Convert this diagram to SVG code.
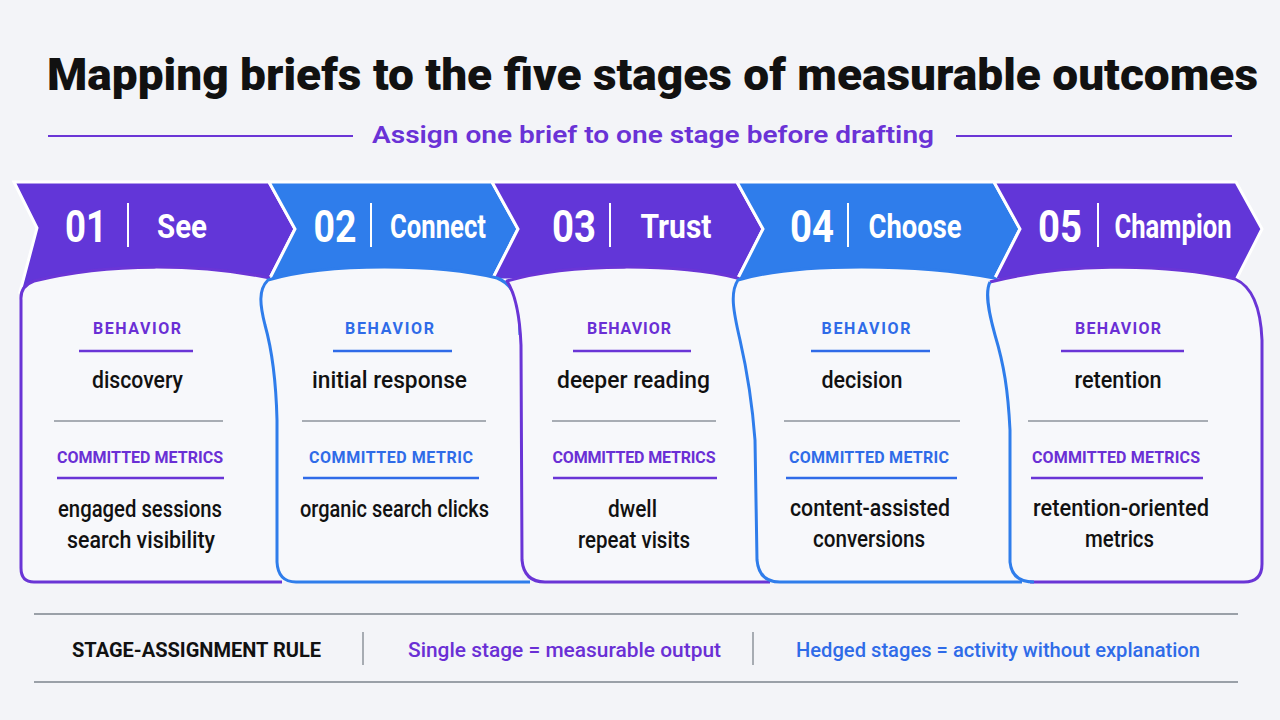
<svg xmlns="http://www.w3.org/2000/svg" width="1280" height="720" viewBox="0 0 1280 720">
<style>
text{font-family:Roboto,"Liberation Sans",Arial,sans-serif}
.title{font-size:45px;font-weight:900;fill:#111}
.sub{font-size:24px;font-weight:600;fill:#6A32D6}
.p{fill:#6236D8}
.b{fill:#2F7DEB}
.chev{stroke:#fff;stroke-width:3;stroke-linejoin:miter}
.num{font-size:44px;font-weight:700;fill:#fff;text-anchor:middle}
.lab{font-size:34px;font-weight:700;fill:#fff;text-anchor:middle}
.div{stroke:#fff;stroke-width:2}
.card{fill:#F7F8FB}
.ep{fill:none;stroke:#6A35D6;stroke-width:3;stroke-linejoin:round}
.eb{fill:none;stroke:#2F7DEB;stroke-width:3;stroke-linejoin:round}
.hd{font-size:16px;font-weight:700;text-anchor:middle}
.hp{fill:#6A2FD5}
.hb{fill:#2F6BE8}
.ulp{stroke:#6A35D6;stroke-width:2.5}
.ulb{stroke:#2F6BE8;stroke-width:2.5}
.sep{stroke:#8E949C;stroke-width:1.5}
.body{font-size:23px;font-weight:500;fill:#111;text-anchor:middle}
.rule{stroke:#9AA0A8;stroke-width:2}
.ft{font-size:21px;font-weight:500}
</style>
<rect width="1280" height="720" fill="#F3F4F8"/>
<g id="header">
<text class="title" x="47" y="90" textLength="1211" lengthAdjust="spacingAndGlyphs">Mapping briefs to the five stages of measurable outcomes</text>
<line x1="48" y1="136" x2="353" y2="136" stroke="#6A35D6" stroke-width="2"/>
<line x1="956" y1="136" x2="1232" y2="136" stroke="#6A35D6" stroke-width="2"/>
<text class="sub" x="372" y="143" textLength="562" lengthAdjust="spacingAndGlyphs">Assign one brief to one stage before drafting</text>
</g>
<g id="chevrons">
<g id="stage1-banner">
<polygon class="p chev" points="14,182 269,182 295,229 269,280 20,292 37,228"/>
<text class="num" x="86" y="242" textLength="42" lengthAdjust="spacingAndGlyphs">01</text>
<line class="div" x1="128" y1="203" x2="128" y2="247"/>
<text class="lab" x="182" y="238" textLength="50" lengthAdjust="spacingAndGlyphs">See</text>
</g>
<g id="stage2-banner">
<polygon class="b chev" points="269,182 492,182 518,229 492,280 269,280 295,229"/>
<text class="num" x="335" y="242" textLength="43" lengthAdjust="spacingAndGlyphs">02</text>
<line class="div" x1="371" y1="203" x2="371" y2="247"/>
<text class="lab" x="438" y="238" textLength="96" lengthAdjust="spacingAndGlyphs">Connect</text>
</g>
<g id="stage3-banner">
<polygon class="p chev" points="492,182 737,182 763,229 737,280 492,280 518,229"/>
<text class="num" x="574" y="242" textLength="44" lengthAdjust="spacingAndGlyphs">03</text>
<line class="div" x1="610" y1="203" x2="610" y2="247"/>
<text class="lab" x="676" y="238" textLength="71" lengthAdjust="spacingAndGlyphs">Trust</text>
</g>
<g id="stage4-banner">
<polygon class="b chev" points="737,182 994,182 1020,229 994,280 737,280 763,229"/>
<text class="num" x="812" y="242" textLength="44" lengthAdjust="spacingAndGlyphs">04</text>
<line class="div" x1="848" y1="203" x2="848" y2="247"/>
<text class="lab" x="915" y="238" textLength="93" lengthAdjust="spacingAndGlyphs">Choose</text>
</g>
<g id="stage5-banner">
<polygon class="p chev" points="994,182 1236,182 1262,229 1236,280 994,280 1020,229"/>
<text class="num" x="1060" y="242" textLength="44" lengthAdjust="spacingAndGlyphs">05</text>
<line class="div" x1="1098" y1="203" x2="1098" y2="247"/>
<text class="lab" x="1173" y="238" textLength="117" lengthAdjust="spacingAndGlyphs">Champion</text>
</g>
</g>
<g id="card1">
<path class="card" d="M21,300 Q20,286 34,281 C110,262 200,264 270,278 L300,300 L300,582 L34,582 Q21,582 21,568 Z"/>
<path class="ep" d="M282,582 L34,582 Q21,582 21,568 L21,300 Q20,286 34,281 C110,262 200,264 270,278"/>
<text class="hd hp" x="137" y="334" textLength="88">BEHAVIOR</text>
<line class="ulp" x1="79" y1="351" x2="193" y2="351"/>
<text class="body" x="137.5" y="388" textLength="91" lengthAdjust="spacingAndGlyphs">discovery</text>
<line class="sep" x1="54" y1="421" x2="223" y2="421"/>
<text class="hd hp" x="140" y="463" textLength="166">COMMITTED METRICS</text>
<line class="ulp" x1="57" y1="478" x2="224" y2="478"/>
<text class="body" x="140" y="517" textLength="164" lengthAdjust="spacingAndGlyphs">engaged sessions</text>
<text class="body" x="141" y="548" textLength="148" lengthAdjust="spacingAndGlyphs">search visibility</text>
</g>
<g id="card2">
<path class="card" d="M268,280 C330,262 440,264 497,278 Q515,285 519,310 L522,582 L296,582 Q278,582 277,562 L277,420 C276,380 272,350 265,325 C260,305 258,290 268,280 Z"/>
<path class="eb" d="M530,582 L296,582 Q278,582 277,562 L277,420 C276,380 272,350 265,325 C260,305 258,290 268,280 C330,262 440,264 497,278 Q515,285 519,310 L520,335"/>
<text class="hd hb" x="389.5" y="334" textLength="89">BEHAVIOR</text>
<line class="ulb" x1="333" y1="351" x2="452" y2="351"/>
<text class="body" x="389.5" y="388" textLength="155" lengthAdjust="spacingAndGlyphs">initial response</text>
<line class="sep" x1="302" y1="421" x2="486" y2="421"/>
<text class="hd hb" x="391" y="463" textLength="164">COMMITTED METRIC</text>
<line class="ulb" x1="303" y1="478" x2="479" y2="478"/>
<text class="body" x="394.5" y="517" textLength="189" lengthAdjust="spacingAndGlyphs">organic search clicks</text>
</g>
<g id="card3">
<path class="card" d="M507,281 C570,262 680,264 737,278 Q757,285 760,310 L762,582 L545,582 Q524,582 522,560 L521,345 C520,320 516,295 507,281 Z"/>
<path class="ep" d="M770,582 L545,582 Q524,582 522,560 L521,345 C520,320 516,295 507,281 C570,262 680,264 737,278 Q757,285 760,310 L761,330"/>
<text class="hd hp" x="629" y="334" textLength="84">BEHAVIOR</text>
<line class="ulp" x1="573" y1="351" x2="691" y2="351"/>
<text class="body" x="633.5" y="388" textLength="153" lengthAdjust="spacingAndGlyphs">deeper reading</text>
<line class="sep" x1="552" y1="421" x2="716" y2="421"/>
<text class="hd hp" x="634" y="463" textLength="163">COMMITTED METRICS</text>
<line class="ulp" x1="553" y1="478" x2="717" y2="478"/>
<text class="body" x="632.5" y="517" textLength="49" lengthAdjust="spacingAndGlyphs">dwell</text>
<text class="body" x="634" y="548" textLength="112" lengthAdjust="spacingAndGlyphs">repeat visits</text>
</g>
<g id="card4">
<path class="card" d="M738,280 C800,262 920,264 994,278 Q1010,285 1012,310 L1014,582 L780,582 Q759,582 757,560 L755,440 C752,400 748,375 740,340 C733,310 730,292 738,280 Z"/>
<path class="eb" d="M1022,582 L780,582 Q759,582 757,560 L755,440 C752,400 748,375 740,340 C733,310 730,292 738,280 C800,262 920,264 994,278 Q1010,285 1012,310 L1013,330"/>
<text class="hd hb" x="866" y="334" textLength="89">BEHAVIOR</text>
<line class="ulb" x1="811" y1="351" x2="930" y2="351"/>
<text class="body" x="862" y="388" textLength="81" lengthAdjust="spacingAndGlyphs">decision</text>
<line class="sep" x1="784" y1="421" x2="960" y2="421"/>
<text class="hd hb" x="869" y="463" textLength="160">COMMITTED METRIC</text>
<line class="ulb" x1="786" y1="478" x2="957" y2="478"/>
<text class="body" x="870" y="516" textLength="160" lengthAdjust="spacingAndGlyphs">content-assisted</text>
<text class="body" x="869" y="547" textLength="112" lengthAdjust="spacingAndGlyphs">conversions</text>
</g>
<g id="card5">
<path class="card" d="M990,282 C1060,264 1160,262 1235,279 Q1260,290 1262,340 L1262,564 Q1262,582 1244,582 L1034,582 Q1012,582 1010,562 L1010,430 C1008,390 1004,365 995,335 C988,310 985,292 990,282 Z"/>
<path class="ep" d="M990,282 C1060,264 1160,262 1235,279 Q1260,290 1262,340 L1262,564 Q1262,582 1244,582 L1030,582"/>
<path class="eb" d="M1034,582 Q1012,582 1010,562 L1010,430 C1008,390 1004,365 995,335 C988,310 985,292 990,282"/>
<text class="hd hp" x="1118" y="334" textLength="86">BEHAVIOR</text>
<line class="ulp" x1="1061" y1="351" x2="1184" y2="351"/>
<text class="body" x="1118" y="388" textLength="87" lengthAdjust="spacingAndGlyphs">retention</text>
<line class="sep" x1="1028" y1="421" x2="1208" y2="421"/>
<text class="hd hp" x="1116" y="463" textLength="168">COMMITTED METRICS</text>
<line class="ulp" x1="1031" y1="478" x2="1203" y2="478"/>
<text class="body" x="1121" y="516" textLength="176" lengthAdjust="spacingAndGlyphs">retention-oriented</text>
<text class="body" x="1119.5" y="547" textLength="69" lengthAdjust="spacingAndGlyphs">metrics</text>
</g>
<g id="footer">
<line class="rule" x1="34" y1="614" x2="1238" y2="614"/>
<line class="rule" x1="34" y1="682" x2="1238" y2="682"/>
<text x="72" y="657" font-size="20" font-weight="700" fill="#111" textLength="249" lengthAdjust="spacingAndGlyphs">STAGE-ASSIGNMENT RULE</text>
<line x1="363" y1="632" x2="363" y2="665" stroke="#8E949C" stroke-width="1.5"/>
<text class="ft" x="408" y="657" fill="#6A2FD5" textLength="313" lengthAdjust="spacingAndGlyphs">Single stage = measurable output</text>
<line x1="753" y1="632" x2="753" y2="665" stroke="#8E949C" stroke-width="1.5"/>
<text class="ft" x="796" y="657" fill="#2F6BE8" textLength="404" lengthAdjust="spacingAndGlyphs">Hedged stages = activity without explanation</text>
</g>
</svg>
